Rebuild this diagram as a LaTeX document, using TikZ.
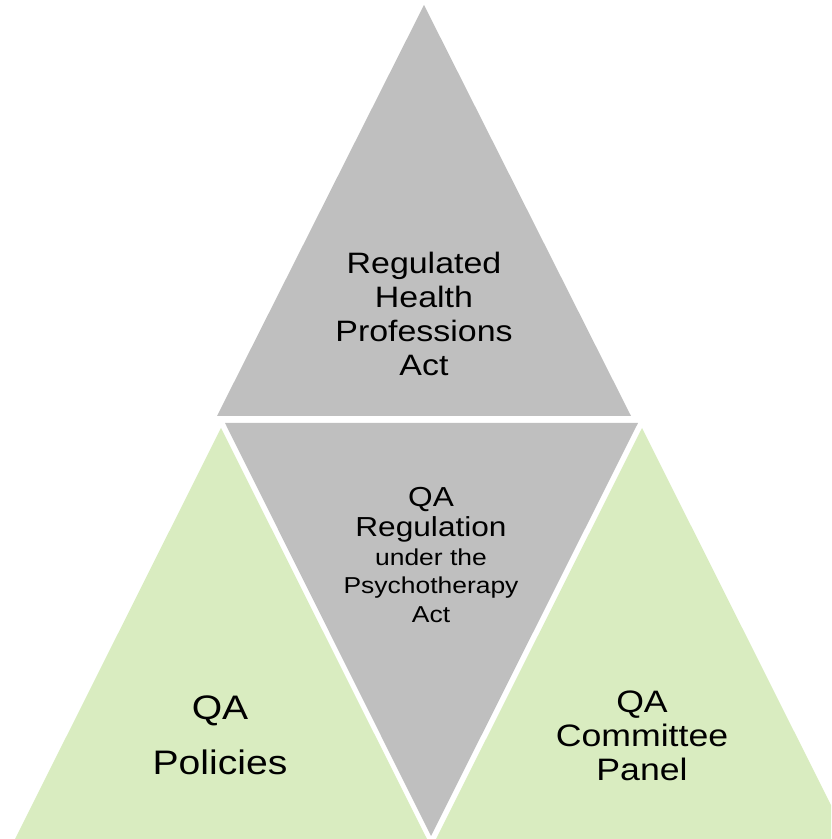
\documentclass[tikz,border=0pt]{standalone}
\usepackage{fontspec}
\setmainfont{Liberation Sans}
\usetikzlibrary{positioning}

\definecolor{actgray}{HTML}{BFBFBF}
\definecolor{qagreen}{HTML}{D9ECC0}

\newcommand{\bigline}[1]{{\fontsize{27.5}{33}\selectfont #1}}

\begin{document}
\begin{tikzpicture}[x=1pt,y=1pt]
\tikzstyle{every node}=[align=center, inner sep=0pt, xscale=1.15, transform shape];
\tikzstyle{graytri}=[fill=actgray];
\tikzstyle{greentri}=[fill=qagreen];

  \useasboundingbox (0,0) rectangle (831,839);
  \clip (0,0) rectangle (831,839);

  % the four triangles
  \fill[graytri] (424,834) -- (631,423) -- (217,423) -- cycle;
  \fill[graytri] (225,416) -- (638,416) -- (431,3) -- cycle;
  \fill[greentri] (221,411) -- (427,0) -- (15,0) -- cycle;
  \fill[greentri] (642,411) -- (848,0) -- (436,0) -- cycle;

  % labels
  \node[font={\fontsize{29.5}{34}\selectfont}] (rhpa) at (424,525)
    {Regulated\\Health\\Professions\\Act};
  \node[font={\fontsize{23}{28.5}\selectfont}] (qareg) at (431,284)
    {\bigline{QA}\\[2pt]\bigline{Regulation}\\under the\\Psychotherapy\\Act};
  \node[font={\fontsize{34}{55}\selectfont}] (policies) at (220,104) {QA\\Policies};
  \node[font={\fontsize{31}{34}\selectfont}] (panel) at (642,103) {QA\\Committee\\Panel};

\end{tikzpicture}
\end{document}
